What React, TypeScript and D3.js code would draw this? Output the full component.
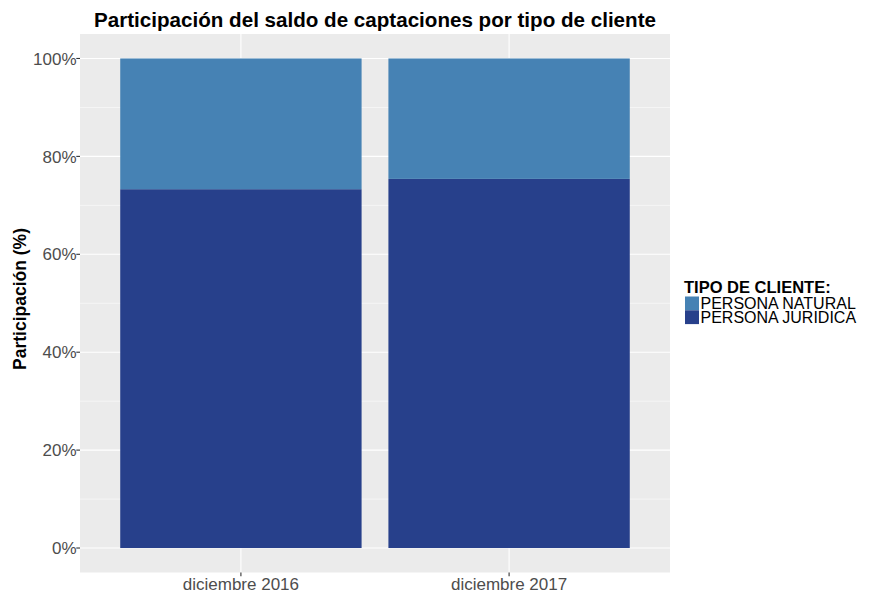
import React from "react";
import * as d3 from "d3";

const categories = ["diciembre 2016", "diciembre 2017"];
const series = ["PERSONA NATURAL", "PERSONA JURIDICA"];
const juridica = [0.733, 0.754];
const natural = [0.267, 0.246];
const yTicks = [0, 0.2, 0.4, 0.6, 0.8, 1.0];
const yMinor = [0.1, 0.3, 0.5, 0.7, 0.9];
const colors = ["#4682B4", "#27408B"];

export default function App() {
  const W = 875, H = 595;
  const pl = 80, pr = 670, pt = 34, pb = 572.5;
  const y = d3.scaleLinear().domain([-0.05, 1.05]).range([pb, pt]);
  const xc = d3.scaleLinear().domain([0.4, 2.6]).range([pl, pr]);
  const bw = 0.9;
  const font = "Liberation Sans, Arial, Helvetica, sans-serif";
  return (
    <svg width={W} height={H} style={{ position: "absolute", left: 0, top: 0 }} fontFamily={font}>
      <rect x={0} y={0} width={W} height={H} fill="#fff" />
      <rect x={pl} y={pt} width={pr - pl} height={pb - pt} fill="#EBEBEB" />
      {yMinor.map((t) => (
        <line key={"m" + t} x1={pl} x2={pr} y1={y(t)} y2={y(t)} stroke="#fff" strokeWidth={0.55} />
      ))}
      {yTicks.map((t) => (
        <line key={"g" + t} x1={pl} x2={pr} y1={y(t)} y2={y(t)} stroke="#fff" strokeWidth={1.1} />
      ))}
      {categories.map((c, i) => (
        <line key={"v" + c} x1={xc(i + 1)} x2={xc(i + 1)} y1={pt} y2={pb} stroke="#fff" strokeWidth={1.1} />
      ))}
      {categories.map((c, i) => {
        const x0 = xc(i + 1 - bw / 2), x1 = xc(i + 1 + bw / 2);
        return (
          <g key={"b" + c}>
            <rect x={x0} width={x1 - x0} y={y(juridica[i])} height={y(0) - y(juridica[i])} fill={colors[1]} />
            <rect x={x0} width={x1 - x0} y={y(juridica[i] + natural[i])} height={y(juridica[i]) - y(juridica[i] + natural[i])} fill={colors[0]} />
          </g>
        );
      })}
      {yTicks.map((t) => (
        <g key={"t" + t}>
          <line x1={pl - 3.7} x2={pl} y1={y(t)} y2={y(t)} stroke="#333" strokeWidth={1.1} />
          <text x={76.5} y={y(t)} dy="0.36em" textAnchor="end" fontSize={17} fill="#4D4D4D">
            {Math.round(t * 100) + "%"}
          </text>
        </g>
      ))}
      {categories.map((c, i) => (
        <g key={"x" + c}>
          <line x1={xc(i + 1)} x2={xc(i + 1)} y1={pb} y2={pb + 3.7} stroke="#333" strokeWidth={1.1} />
          <text x={xc(i + 1)} y={590} textAnchor="middle" fontSize={17} fill="#4D4D4D">{c}</text>
        </g>
      ))}
      <text x={(pl + pr) / 2} y={26.5} textAnchor="middle" fontSize={20.6} fontWeight="bold" fill="#000">
        Participación del saldo de captaciones por tipo de cliente
      </text>
      <text transform={`translate(26,299) rotate(-90)`} textAnchor="middle" fontSize={17.5} fontWeight="bold" fill="#000">
        Participación (%)
      </text>
      <text x={684} y={292.7} fontSize={16.5} fontWeight="bold" fill="#000">TIPO DE CLIENTE:</text>
      {series.map((s, i) => (
        <g key={"l" + s}>
          <rect x={685} y={296.5 + i * 13.8} width={14} height={13.8} fill={colors[i]} />
          <text x={700.5} y={309.3 + i * 13.8} fontSize={16} fill="#000">{s}</text>
        </g>
      ))}
    </svg>
  );
}
